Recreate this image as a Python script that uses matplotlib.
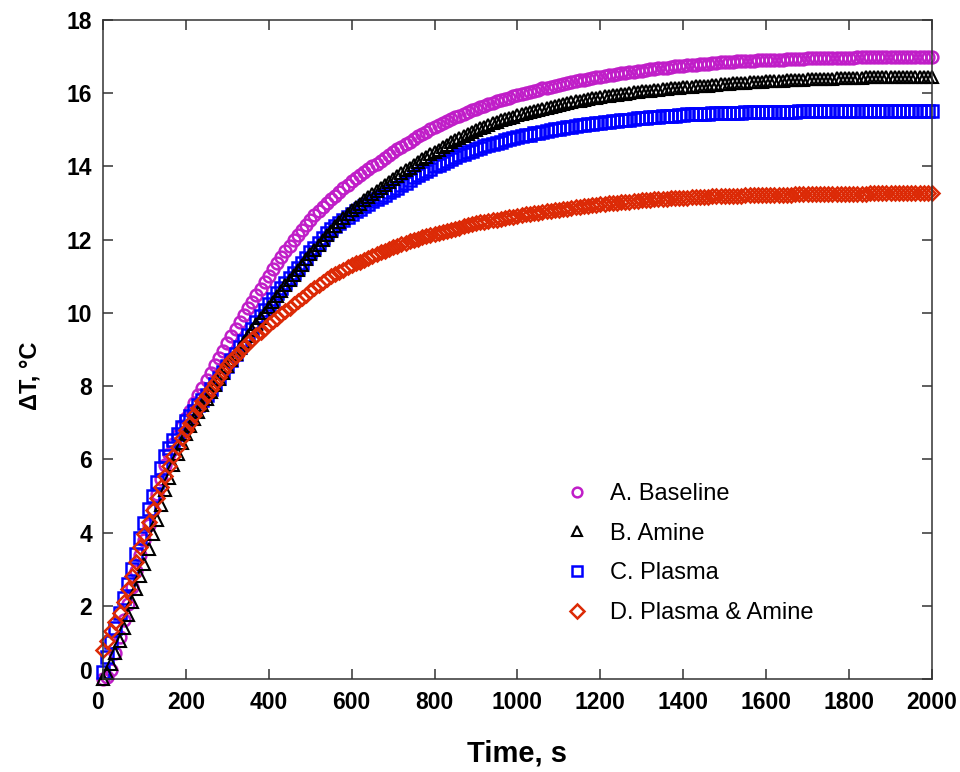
import numpy as np
import matplotlib
matplotlib.use("Agg")
import matplotlib.pyplot as plt
import matplotlib.transforms as mtransforms

plt.rcParams['font.family'] = ['Liberation Sans', 'DejaVu Sans']

# time axis, one reading every 10 s
time_s = np.arange(0, 2001, 10)

# temperature rise, deg C
baseline = [
    0.00, 0.05, 0.25, 0.70, 1.15, 1.60, 2.05, 2.50, 2.95, 3.40,
    3.80, 4.20, 4.62, 5.05, 5.45, 5.85, 6.15, 6.42, 6.67, 6.90,
    7.12, 7.33, 7.54, 7.75, 7.96, 8.17, 8.37, 8.57, 8.77, 8.97,
    9.17, 9.36, 9.55, 9.74, 9.93, 10.12, 10.30, 10.48, 10.66, 10.84,
    11.02, 11.19, 11.36, 11.52, 11.68, 11.84, 11.98, 12.12, 12.26, 12.40,
    12.54, 12.66, 12.77, 12.88, 12.99, 13.10, 13.20, 13.30, 13.40, 13.50,
    13.60, 13.68, 13.76, 13.84, 13.92, 14.00, 14.08, 14.16, 14.24, 14.32,
    14.40, 14.47, 14.54, 14.61, 14.68, 14.75, 14.82, 14.88, 14.95, 15.01,
    15.08, 15.13, 15.19, 15.24, 15.30, 15.35, 15.39, 15.44, 15.48, 15.53,
    15.57, 15.61, 15.65, 15.70, 15.74, 15.78, 15.81, 15.85, 15.88, 15.92,
    15.95, 15.98, 16.01, 16.04, 16.07, 16.10, 16.13, 16.15, 16.18, 16.20,
    16.23, 16.25, 16.28, 16.30, 16.33, 16.35, 16.37, 16.39, 16.41, 16.43,
    16.45, 16.47, 16.49, 16.50, 16.52, 16.54, 16.56, 16.57, 16.59, 16.60,
    16.62, 16.63, 16.65, 16.66, 16.68, 16.69, 16.70, 16.71, 16.73, 16.74,
    16.75, 16.76, 16.77, 16.78, 16.79, 16.80, 16.81, 16.82, 16.83, 16.84,
    16.85, 16.86, 16.86, 16.87, 16.87, 16.88, 16.89, 16.89, 16.90, 16.90,
    16.91, 16.91, 16.92, 16.92, 16.92, 16.93, 16.93, 16.94, 16.94, 16.94,
    16.95, 16.95, 16.95, 16.96, 16.96, 16.96, 16.96, 16.97, 16.97, 16.97,
    16.97, 16.97, 16.98, 16.98, 16.98, 16.98, 16.98, 16.99, 16.99, 16.99,
    16.99, 16.99, 16.99, 17.00, 17.00, 17.00, 17.00, 17.00, 17.00, 17.00,
    17.00,
]

amine = [
    0.00, 0.15, 0.40, 0.70, 1.05, 1.40, 1.75, 2.10, 2.45, 2.80,
    3.15, 3.55, 3.95, 4.35, 4.75, 5.15, 5.50, 5.85, 6.15, 6.45,
    6.70, 6.90, 7.10, 7.30, 7.48, 7.66, 7.84, 8.02, 8.20, 8.37,
    8.54, 8.71, 8.88, 9.05, 9.21, 9.37, 9.53, 9.69, 9.85, 10.00,
    10.15, 10.30, 10.45, 10.60, 10.75, 10.90, 11.04, 11.18, 11.32, 11.46,
    11.60, 11.73, 11.86, 11.99, 12.12, 12.25, 12.36, 12.47, 12.58, 12.69,
    12.80, 12.89, 12.98, 13.07, 13.16, 13.25, 13.33, 13.41, 13.49, 13.57,
    13.65, 13.73, 13.81, 13.89, 13.97, 14.05, 14.12, 14.19, 14.26, 14.33,
    14.40, 14.46, 14.53, 14.59, 14.66, 14.72, 14.78, 14.83, 14.89, 14.94,
    15.00, 15.04, 15.09, 15.13, 15.18, 15.22, 15.26, 15.29, 15.33, 15.36,
    15.40, 15.43, 15.46, 15.49, 15.52, 15.55, 15.58, 15.60, 15.63, 15.65,
    15.68, 15.70, 15.73, 15.75, 15.78, 15.80, 15.82, 15.84, 15.86, 15.88,
    15.90, 15.92, 15.93, 15.95, 15.96, 15.98, 15.99, 16.01, 16.02, 16.04,
    16.05, 16.06, 16.07, 16.09, 16.10, 16.11, 16.12, 16.13, 16.14, 16.15,
    16.16, 16.17, 16.18, 16.19, 16.19, 16.20, 16.21, 16.22, 16.23, 16.24,
    16.25, 16.26, 16.27, 16.27, 16.28, 16.29, 16.30, 16.30, 16.31, 16.31,
    16.32, 16.33, 16.33, 16.34, 16.34, 16.35, 16.36, 16.36, 16.37, 16.37,
    16.38, 16.38, 16.39, 16.39, 16.39, 16.40, 16.40, 16.41, 16.41, 16.41,
    16.42, 16.42, 16.42, 16.42, 16.43, 16.43, 16.43, 16.43, 16.44, 16.44,
    16.44, 16.44, 16.44, 16.44, 16.45, 16.45, 16.45, 16.45, 16.45, 16.45,
    16.45,
]

plasma = [
    0.20, 0.60, 1.00, 1.40, 1.80, 2.20, 2.60, 3.00, 3.42, 3.84,
    4.25, 4.63, 5.00, 5.38, 5.75, 6.10, 6.32, 6.52, 6.70, 6.88,
    7.05, 7.19, 7.33, 7.47, 7.61, 7.75, 7.91, 8.07, 8.23, 8.39,
    8.55, 8.72, 8.89, 9.06, 9.23, 9.40, 9.57, 9.74, 9.91, 10.08,
    10.25, 10.39, 10.53, 10.67, 10.81, 10.95, 11.09, 11.23, 11.37, 11.51,
    11.65, 11.78, 11.91, 12.04, 12.17, 12.30, 12.38, 12.46, 12.54, 12.62,
    12.70, 12.77, 12.84, 12.91, 12.98, 13.05, 13.11, 13.17, 13.23, 13.29,
    13.35, 13.42, 13.49, 13.56, 13.63, 13.70, 13.76, 13.82, 13.88, 13.94,
    14.00, 14.05, 14.10, 14.15, 14.20, 14.25, 14.30, 14.34, 14.39, 14.43,
    14.48, 14.51, 14.55, 14.58, 14.62, 14.65, 14.68, 14.71, 14.74, 14.77,
    14.80, 14.82, 14.85, 14.87, 14.90, 14.92, 14.94, 14.96, 14.99, 15.01,
    15.03, 15.05, 15.07, 15.08, 15.10, 15.12, 15.14, 15.15, 15.17, 15.18,
    15.20, 15.21, 15.22, 15.24, 15.25, 15.26, 15.27, 15.28, 15.30, 15.31,
    15.32, 15.33, 15.34, 15.35, 15.36, 15.37, 15.38, 15.39, 15.39, 15.40,
    15.41, 15.42, 15.42, 15.43, 15.43, 15.44, 15.44, 15.45, 15.45, 15.46,
    15.46, 15.46, 15.47, 15.47, 15.47, 15.48, 15.48, 15.48, 15.49, 15.49,
    15.49, 15.49, 15.50, 15.50, 15.50, 15.50, 15.50, 15.50, 15.51, 15.51,
    15.51, 15.51, 15.51, 15.51, 15.52, 15.52, 15.51, 15.51, 15.52, 15.52,
    15.51, 15.51, 15.52, 15.51, 15.51, 15.52, 15.51, 15.51, 15.51, 15.52,
    15.51, 15.51, 15.51, 15.52, 15.51, 15.51, 15.51, 15.51, 15.51, 15.51,
    15.51,
]

plasma_amine = [
    0.80, 1.05, 1.30, 1.55, 1.80, 2.10, 2.45, 2.80, 3.20, 3.60,
    3.95, 4.30, 4.62, 4.95, 5.25, 5.55, 5.83, 6.10, 6.35, 6.58,
    6.80, 7.00, 7.20, 7.40, 7.58, 7.75, 7.92, 8.09, 8.25, 8.42,
    8.58, 8.71, 8.83, 8.95, 9.07, 9.19, 9.29, 9.39, 9.49, 9.59,
    9.69, 9.78, 9.87, 9.96, 10.05, 10.14, 10.23, 10.32, 10.41, 10.50,
    10.59, 10.67, 10.75, 10.84, 10.92, 11.00, 11.06, 11.12, 11.18, 11.24,
    11.30, 11.35, 11.40, 11.45, 11.50, 11.55, 11.60, 11.65, 11.70, 11.75,
    11.80, 11.84, 11.88, 11.92, 11.96, 12.00, 12.03, 12.06, 12.09, 12.12,
    12.15, 12.18, 12.21, 12.24, 12.27, 12.30, 12.33, 12.36, 12.39, 12.42,
    12.45, 12.47, 12.49, 12.51, 12.53, 12.55, 12.57, 12.59, 12.61, 12.63,
    12.65, 12.67, 12.69, 12.71, 12.72, 12.74, 12.76, 12.77, 12.79, 12.80,
    12.82, 12.84, 12.85, 12.87, 12.88, 12.90, 12.91, 12.93, 12.94, 12.96,
    12.97, 12.98, 12.99, 13.00, 13.01, 13.02, 13.03, 13.04, 13.05, 13.06,
    13.07, 13.08, 13.09, 13.10, 13.10, 13.11, 13.12, 13.13, 13.14, 13.14,
    13.15, 13.15, 13.16, 13.16, 13.17, 13.17, 13.17, 13.18, 13.18, 13.19,
    13.19, 13.19, 13.20, 13.20, 13.20, 13.21, 13.21, 13.21, 13.21, 13.22,
    13.22, 13.22, 13.22, 13.23, 13.23, 13.23, 13.23, 13.24, 13.24, 13.24,
    13.24, 13.24, 13.25, 13.25, 13.25, 13.25, 13.25, 13.25, 13.26, 13.26,
    13.26, 13.26, 13.26, 13.26, 13.26, 13.27, 13.27, 13.27, 13.27, 13.27,
    13.27, 13.27, 13.27, 13.27, 13.28, 13.28, 13.28, 13.28, 13.28, 13.28,
    13.28,
]

labels = ['A. Baseline', 'B. Amine', 'C. Plasma', 'D. Plasma & Amine']

fig = plt.figure(figsize=(9.6, 7.72), dpi=100)
ax = fig.add_axes([0.1073, 0.1205, 0.8635, 0.8536])

style = dict(linestyle='none', mfc='none', clip_on=False)
hA, = ax.plot(time_s, baseline, marker='o', ms=8.5, mew=1.8, color='#c01ec8', **style)
hC, = ax.plot(time_s, plasma, marker='s', ms=8.0, mew=1.8, color='#0000ff', **style)
hB, = ax.plot(time_s, amine, marker='^', ms=8.5, mew=1.5, color='black', **style)
hD, = ax.plot(time_s, plasma_amine, marker='D', ms=7.5, mew=1.8, color='#dc2a06', **style)

ax.set_xlim(0, 2000)
ax.set_ylim(0, 18)
ax.set_xticks(np.arange(0, 2001, 200))
ax.set_yticks(np.arange(0, 19, 2))

for side in ax.spines.values():
    side.set_linewidth(1.1)
    side.set_color('#333333')

ax.tick_params(direction='in', length=7, width=1.1, color='#333333',
               top=True, right=True, labelsize=16.5)
ax.tick_params(axis='x', pad=9)
ax.tick_params(axis='y', pad=8)
for lab in ax.get_xticklabels() + ax.get_yticklabels():
    lab.set_fontweight('bold')

# nudge the shared corner "0" labels apart
fig.canvas.draw()
ax.get_yticklabels()[0].set_transform(
    ax.get_yticklabels()[0].get_transform()
    + mtransforms.ScaledTranslation(0, 9 / 100, fig.dpi_scale_trans))
ax.get_xticklabels()[0].set_transform(
    ax.get_xticklabels()[0].get_transform()
    + mtransforms.ScaledTranslation(-6 / 100, 0, fig.dpi_scale_trans))

ax.set_xlabel('Time, s', fontsize=21, fontweight='bold', labelpad=18)
ax.set_ylabel('ΔT, °C', fontsize=17, fontweight='bold')
ax.yaxis.set_label_coords(-0.074, 0.46)

leg = ax.legend([hA, hB, hC, hD], labels, frameon=False, fontsize=17,
                loc='upper left', bbox_to_anchor=(0.5465, 0.312),
                handlelength=1.0, handletextpad=0.9, labelspacing=0.75,
                borderaxespad=0)
for h in leg.legend_handles:
    h.set_markersize(7)

fig.savefig('out.png', dpi=100)
